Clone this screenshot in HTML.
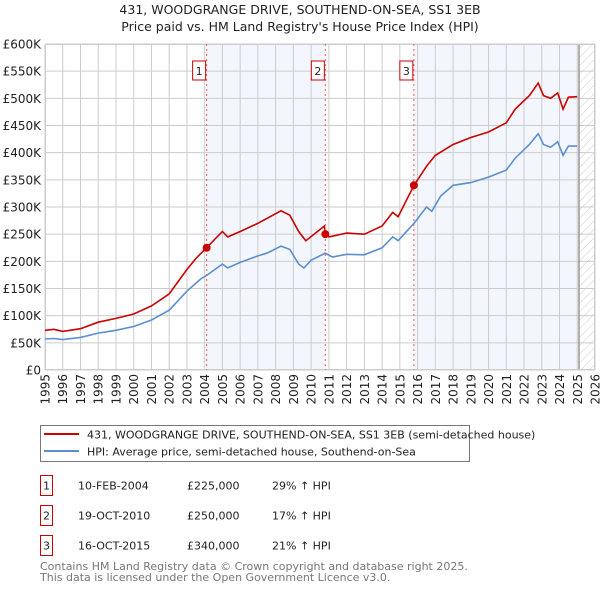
<!DOCTYPE html>
<html><head><meta charset="utf-8"><style>
body{margin:0;background:#fff;font-family:"Liberation Sans","DejaVu Sans",sans-serif;}
svg text{font-family:"DejaVu Sans","Liberation Sans",sans-serif;}
</style></head><body>
<svg id="chart" width="600" height="590" viewBox="0 0 600 590" xmlns="http://www.w3.org/2000/svg">
<defs><pattern id="hatch" width="6" height="6" patternUnits="userSpaceOnUse" patternTransform="rotate(45)"><line x1="0" y1="0" x2="0" y2="6" stroke="#ccc" stroke-width="1"/></pattern></defs>
<text x="300" y="14" text-anchor="middle" font-size="12.5" fill="#222">431, WOODGRANGE DRIVE, SOUTHEND-ON-SEA, SS1 3EB</text>
<text x="300" y="31" text-anchor="middle" font-size="12.5" fill="#222">Price paid vs. HM Land Registry's House Price Index (HPI)</text>
<g id="bg"></g><g id="grid"></g><g id="axes"></g><g id="series"></g><g id="markers"></g>
<g>
<rect x="40.5" y="425.5" width="429" height="36" fill="#fff" stroke="#777"/>
<line x1="44" y1="434" x2="79" y2="434" stroke="#cc0000" stroke-width="2"/>
<text x="87" y="438.5" font-size="11" fill="#222">431, WOODGRANGE DRIVE, SOUTHEND-ON-SEA, SS1 3EB (semi-detached house)</text>
<line x1="44" y1="451" x2="79" y2="451" stroke="#5b8fd0" stroke-width="2"/>
<text x="87" y="455.5" font-size="11" fill="#222">HPI: Average price, semi-detached house, Southend-on-Sea</text>
</g>
<g id="table"></g>
<text x="40" y="570" font-size="11" fill="#777">Contains HM Land Registry data © Crown copyright and database right 2025.</text>
<text x="40" y="581" font-size="11" fill="#777">This data is licensed under the Open Government Licence v3.0.</text>
</svg>
<script>
const yearTicks=[1995,1996,1997,1998,1999,2000,2001,2002,2003,2004,2005,2006,2007,2008,2009,2010,2011,2012,2013,2014,2015,2016,2017,2018,2019,2020,2021,2022,2023,2024,2025,2026];
const priceTicks=[0,50000,100000,150000,200000,250000,300000,350000,400000,450000,500000,550000,600000];
const priceLabels=["£0","£50K","£100K","£150K","£200K","£250K","£300K","£350K","£400K","£450K","£500K","£550K","£600K"];
const hpiYears=[1995,1995.5,1996,1997,1998,1999,2000,2001,2002,2003,2003.8,2004.1,2005,2005.3,2006,2007,2007.5,2008.3,2008.8,2009.3,2009.6,2010,2010.8,2011.2,2012,2013,2014,2014.6,2014.9,2015.8,2016.5,2016.8,2017.3,2018,2019,2020,2021,2021.5,2022.3,2022.8,2023.1,2023.5,2023.9,2024.2,2024.5,2025];
const hpiValues=[57000,58000,56000,60000,68000,73000,80000,92000,110000,145000,168000,174000,195000,188000,198000,210000,215000,228000,222000,195000,188000,202000,215000,208000,213000,212000,225000,245000,238000,270000,300000,292000,320000,340000,345000,355000,368000,390000,415000,435000,415000,410000,420000,395000,412000,412000];
const priceYears=[1995,1995.5,1996,1997,1998,1999,2000,2001,2002,2003,2003.5,2004.1,2005,2005.3,2006,2007,2008.3,2008.8,2009.3,2009.7,2010.75,2010.8,2011,2012,2013,2014,2014.6,2014.9,2015.8,2016.5,2017,2017.5,2018,2019,2020,2021,2021.5,2022.3,2022.8,2023.1,2023.5,2023.9,2024.2,2024.5,2025];
const priceValues=[73000,75000,71000,76000,88000,95000,103000,118000,140000,185000,205000,225000,255000,245000,255000,270000,293000,285000,255000,238000,265000,250000,245000,252000,250000,265000,290000,282000,340000,375000,395000,405000,415000,428000,438000,455000,480000,505000,528000,505000,500000,510000,480000,502000,503000];
const saleLabels=["1","2","3"];
const saleYears=[2004.11,2010.8,2015.79];
const salePrices=[225000,250000,340000];
const saleDates=["10-FEB-2004","19-OCT-2010","16-OCT-2015"];
const salePriceText=["£225,000","£250,000","£340,000"];
const saleHpiText=["29% ↑ HPI","17% ↑ HPI","21% ↑ HPI"];
const endYear=2025.1;

const X0=45,X1=595,Y0=370,Y1=44;
const x=y=>X0+(y-1995)/(2026-1995)*(X1-X0);
const yv=v=>Y0-v/600000*(Y0-Y1);
const NS="http://www.w3.org/2000/svg";
function mk(tag,attrs,parent,txt){const e=document.createElementNS(NS,tag);for(const k in attrs)e.setAttribute(k,attrs[k]);if(txt!==undefined)e.textContent=txt;document.getElementById(parent).appendChild(e);return e;}

let r;
r=mk('rect',{x:x(saleYears[0]),y:Y1,width:x(saleYears[1])-x(saleYears[0]),height:Y0-Y1,fill:'#eef3fc',opacity:0.7},'bg');


r=mk('rect',{x:x(saleYears[2]),y:Y1,width:x(endYear)-x(saleYears[2]),height:Y0-Y1,fill:'#eef3fc',opacity:0.7},'bg');


r=mk('rect',{x:x(endYear),y:Y1,width:X1-x(endYear),height:Y0-Y1,fill:'url(#hatch)'},'bg');



yearTicks.forEach(t=>{const l=mk('line',{x1:x(t),x2:x(t),y1:Y1,y2:Y0,stroke:'#ccc','stroke-width':1},'grid');


const tx0=x(t)+4.5,ty0=Y0+4;
const tx=mk('text',{x:tx0,y:ty0,'text-anchor':'end','font-size':12,fill:'#222',transform:'rotate(-90 '+tx0+' '+ty0+')'},'axes',String(t));

});
priceTicks.forEach((t,i)=>{const l=mk('line',{x1:X0,x2:X1,y1:yv(t),y2:yv(t),stroke:'#ccc','stroke-width':1},'grid');


const tx=mk('text',{x:X0-4,y:yv(t)+4.5,'text-anchor':'end','font-size':12,fill:'#222'},'axes',priceLabels[i]);

});
r=mk('line',{x1:x(endYear),x2:x(endYear),y1:Y1,y2:Y0,stroke:'#999','stroke-width':1.5},'grid');



function path(xs,vs){return xs.map((a,i)=>(i?'L':'M')+x(a).toFixed(1)+','+yv(vs[i]).toFixed(1)).join('');}
r=mk('path',{d:path(hpiYears,hpiValues),fill:'none',stroke:'#5b8fd0','stroke-width':1.6},'series');


r=mk('path',{d:path(priceYears,priceValues),fill:'none',stroke:'#cc0000','stroke-width':1.6},'series');



saleYears.forEach((s,i)=>{
const l=mk('line',{x1:x(s),x2:x(s),y1:Y1,y2:Y0,stroke:'#ee5555','stroke-width':1,'stroke-dasharray':'2,3'},'markers');


const b=mk('rect',{x:x(s)-14,y:61,width:13,height:19,fill:'#fff',stroke:'#cc0000'},'markers');


const t=mk('text',{x:x(s)-7.5,y:75,'text-anchor':'middle','font-size':11,fill:'#222'},'markers',saleLabels[i]);


const c=mk('circle',{cx:x(s),cy:yv(salePrices[i]),r:4,fill:'#cc0000'},'markers');


const ry=475+i*30;
const rb=mk('rect',{x:40.5,y:ry+0.5,width:12,height:20,fill:'#fff',stroke:'#cc0000'},'table');


const rn=mk('text',{x:46.5,y:ry+14.5,'text-anchor':'middle','font-size':11,fill:'#222'},'table',saleLabels[i]);


const d=mk('text',{x:78,y:ry+14.5,'font-size':11,fill:'#222'},'table',saleDates[i]);


const p=mk('text',{x:187,y:ry+14.5,'font-size':11,fill:'#222'},'table',salePriceText[i]);


const h=mk('text',{x:272,y:ry+14.5,'font-size':11,fill:'#222'},'table',saleHpiText[i]);


});
r=mk('rect',{x:X0+0.5,y:Y1+0.5,width:X1-X0-1,height:Y0-Y1-1,fill:'none',stroke:'#ccc'},'grid');


</script>
</body></html>
